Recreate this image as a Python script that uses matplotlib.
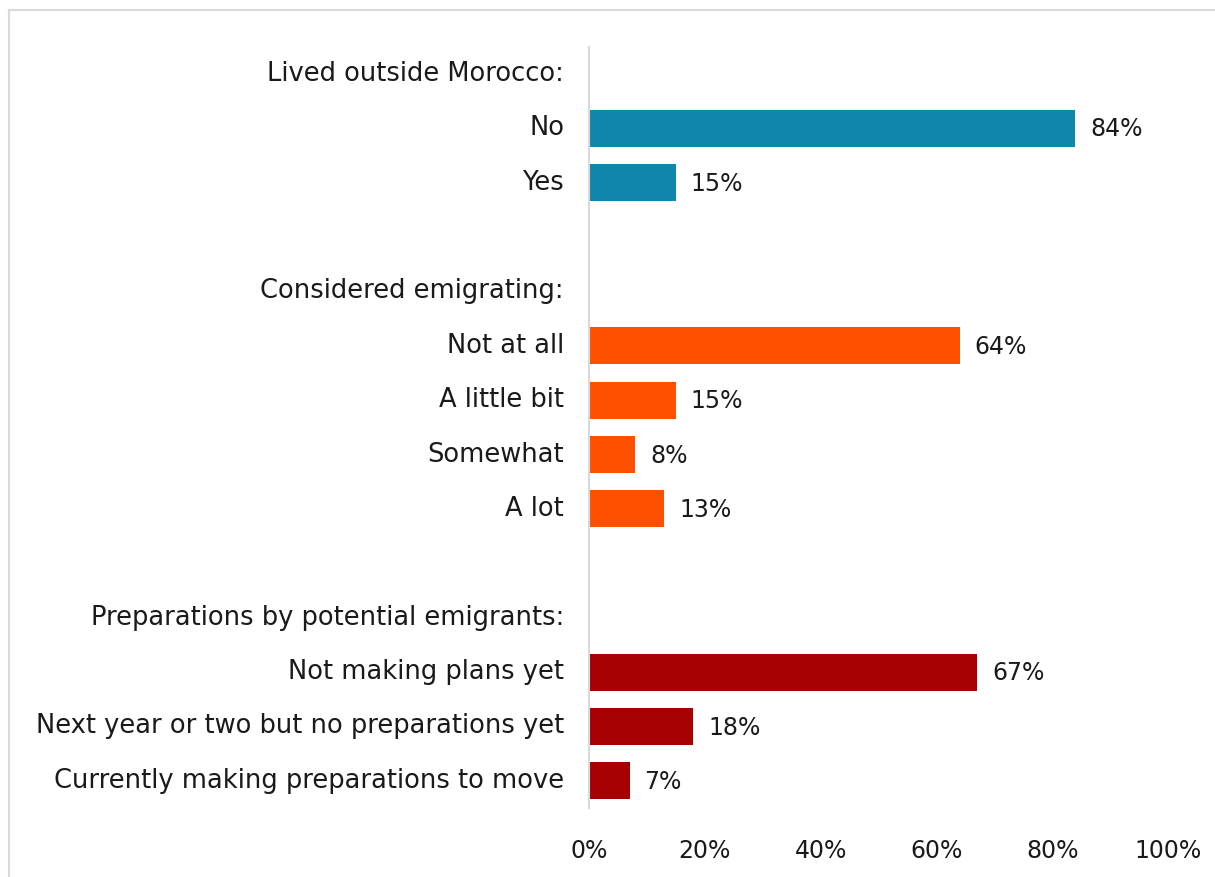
import matplotlib
matplotlib.use("Agg")
import matplotlib.pyplot as plt
from matplotlib.lines import Line2D

# Survey groups: header label, answer categories, shares (%), bar colour
groups = ["Lived outside Morocco:", "Considered emigrating:", "Preparations by potential emigrants:"]
lived_cats = ["No", "Yes"]
lived_vals = [84, 15]
considered_cats = ["Not at all", "A little bit", "Somewhat", "A lot"]
considered_vals = [64, 15, 8, 13]
prep_cats = ["Not making plans yet", "Next year or two but no preparations yet",
             "Currently making preparations to move"]
prep_vals = [67, 18, 7]
group_colors = ["#1186AD", "#FF5000", "#A60000"]
x_ticks = [0, 20, 40, 60, 80, 100]

plt.rcParams['font.family'] = ['DejaVu Sans']
FS_LABEL = 18.5
FS_NUM = 17

fig = plt.figure(figsize=(12.15, 8.77), dpi=100)
ax = fig.add_axes([589 / 1215, 69 / 877, 579 / 1215, 761.2 / 877])

rows = []  # (label, value or None, colour)
sections = [(lived_cats, lived_vals), (considered_cats, considered_vals), (prep_cats, prep_vals)]
for i, (head, (cats, vals)) in enumerate(zip(groups, sections)):
    if i > 0:
        rows.append(("", None, None))
    rows.append((head, None, None))
    for c, v in zip(cats, vals):
        rows.append((c, v, group_colors[i]))

for y, (lab, val, col) in enumerate(rows):
    if val is None:
        continue
    ax.barh(y, val, height=0.68, color=col, zorder=2)
    ax.text(val + 2.6, y + 0.02, f"{val}%", va="center", ha="left",
            fontsize=FS_NUM, color="#1a1a1a")

ax.set_yticks(range(len(rows)))
ax.set_yticklabels([r[0] for r in rows], fontsize=FS_LABEL, color="#1a1a1a",
                   va="center")
ax.set_ylim(len(rows) - 0.5, -0.5)
ax.set_xlim(0, 100)
ax.set_xticks(x_ticks)
ax.set_xticklabels([f"{t}%" for t in x_ticks], fontsize=FS_NUM, color="#1a1a1a")
ax.tick_params(axis="y", length=0, pad=18)
ax.tick_params(axis="x", length=0, pad=22)

for s in ["top", "right", "bottom"]:
    ax.spines[s].set_visible(False)
ax.spines["left"].set_color("#d9d9d9")
ax.spines["left"].set_linewidth(1.5)

# Light frame along the top and left edges
fig.add_artist(Line2D([8.5 / 1215, 8.5 / 1215], [0, 1 - 9.5 / 877],
                      transform=fig.transFigure, color="#d9d9d9", lw=1.5))
fig.add_artist(Line2D([8.5 / 1215, 1], [1 - 9.5 / 877, 1 - 9.5 / 877],
                      transform=fig.transFigure, color="#d9d9d9", lw=1.5))

fig.savefig("out.png", dpi=100)
